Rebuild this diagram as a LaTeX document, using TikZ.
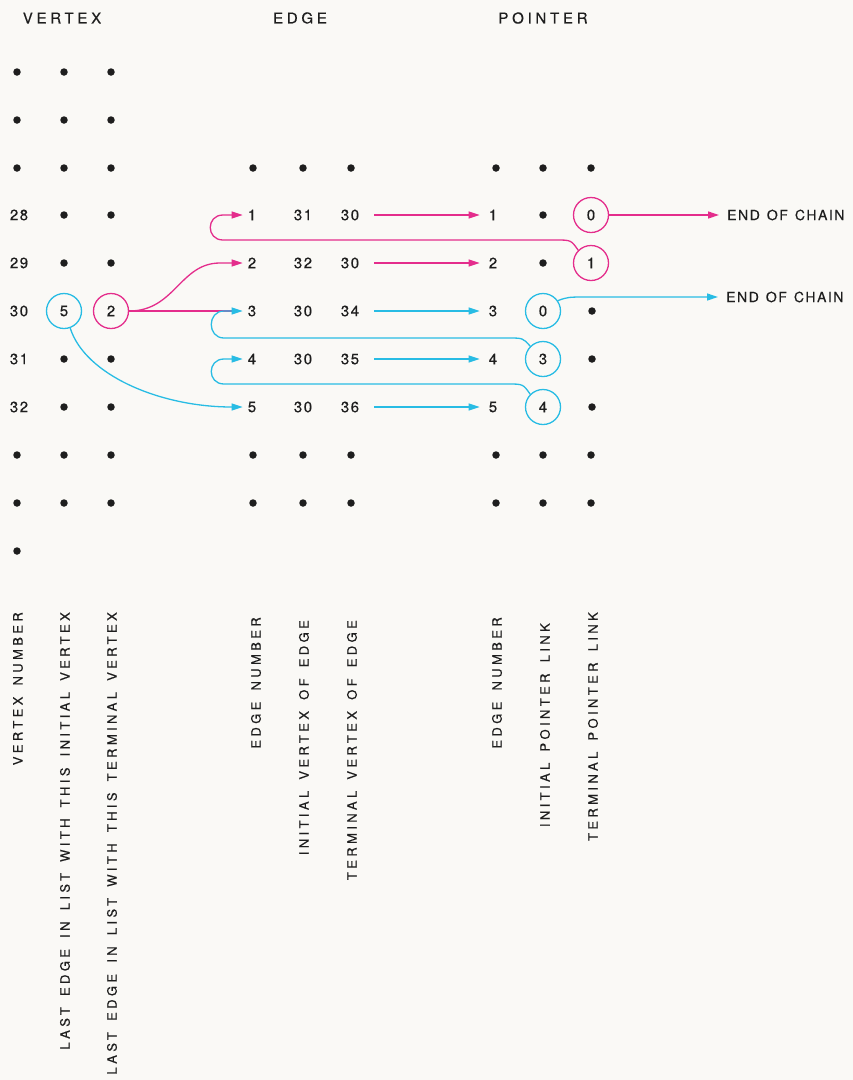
\documentclass[tikz,border=0pt]{standalone}
\usepackage{fontspec}
\setmainfont{TeX Gyre Heros}
\newfontfamily\hdfont[LetterSpace=25,WordSpace=1.6,FakeBold=0.4]{TeX Gyre Heros}
\newfontfamily\labfont[LetterSpace=26,WordSpace=1.6,FakeBold=0.4]{TeX Gyre Heros}
\newfontfamily\numfont[LetterSpace=10,FakeBold=0.4]{TeX Gyre Heros}
\newfontfamily\eocfont[LetterSpace=11,WordSpace=1.3,FakeBold=0.4]{TeX Gyre Heros}
\usetikzlibrary{arrows.meta}
\definecolor{mag}{RGB}{228,45,140}
\definecolor{cya}{RGB}{40,188,228}
\definecolor{ink}{RGB}{30,30,30}
\definecolor{paper}{RGB}{250,249,246}
\begin{document}
\begin{tikzpicture}[x=1pt,y=-1pt,
  num/.style={inner sep=0pt, text=ink, font=\numfont\fontsize{15}{15}\selectfont},
  hdr/.style={inner sep=0pt, text=ink, font=\hdfont\fontsize{15}{15}\selectfont},
  lab/.style={inner sep=0pt, text=ink, rotate=90, anchor=east, font=\labfont\fontsize{13}{13}\selectfont},
  eoc/.style={inner sep=0pt, text=ink, anchor=west, font=\eocfont\fontsize{14}{14}\selectfont},
  dotn/.style={circle, fill=ink, inner sep=0pt, minimum size=7.5pt},
  ring/.style={circle, line width=1.3pt, minimum size=35pt, inner sep=0pt, font=\numfont\fontsize{15}{15}\selectfont},
  ringm/.style={ring, draw=mag, text=ink},
  ringc/.style={ring, draw=cya, text=ink},
  link/.style={line width=1.3pt},
  tip/.style={-{Triangle[length=11pt,width=7pt]}},
]
\fill[paper] (0,0) rectangle (853,1080);
\useasboundingbox (0,0) rectangle (853,1080);

% headers
\node[hdr] (hv) at (62,18) {VERTEX};
\node[hdr] (he) at (300,18) {EDGE};
\node[hdr] (hp) at (543,18) {POINTER};

% vertex table
\foreach \y [count=\i] in {72,120,168,455,503} {
  \node[dotn] (va\i) at (17,\y) {};
  \node[dotn] (vb\i) at (64,\y) {};
  \node[dotn] (vc\i) at (111,\y) {};
}
\node[dotn] (vlast) at (17,551) {};
\foreach \n/\y in {28/215,29/263,30/311,31/359,32/407} {
  \node[num] (vn\n) at (19,\y) {\n};
}
\foreach \n/\y in {28/215,29/263,31/359,32/407} {
  \node[dotn] (vi\n) at (64,\y) {};
  \node[dotn] (vt\n) at (111,\y) {};
}
\node[ringc] (c5) at (64,311) {5};
\node[ringm] (c2) at (111,311) {2};

% edge table
\foreach \y [count=\i] in {168,455,503} {
  \node[dotn] (ea\i) at (253,\y) {};
  \node[dotn] (eb\i) at (303,\y) {};
  \node[dotn] (ec\i) at (351,\y) {};
}
\foreach \k/\a/\b/\y in {1/31/30/215,2/32/30/263,3/30/34/311,4/30/35/359,5/30/36/407} {
  \node[num] (e\k) at (252,\y) {\k};
  \node[num] (f\k) at (303,\y) {\a};
  \node[num] (g\k) at (350,\y) {\b};
}

% pointer table
\foreach \y [count=\i] in {168,455,503} {
  \node[dotn] (pa\i) at (496,\y) {};
  \node[dotn] (pb\i) at (543,\y) {};
  \node[dotn] (pc\i) at (591,\y) {};
}
\foreach \k/\y in {1/215,2/263,3/311,4/359,5/407} {
  \node[num] (p\k) at (493,\y) {\k};
}
\node[dotn] (q1) at (543,215) {};
\node[dotn] (q2) at (543,263) {};
\node[ringm] (m0) at (591,215) {0};
\node[ringm] (m1) at (591,263) {1};
\node[ringc] (z0) at (543,311) {0};
\node[ringc] (z3) at (543,359) {3};
\node[ringc] (z4) at (543,407) {4};
\node[dotn] (r3) at (592,311) {};
\node[dotn] (r4) at (592,359) {};
\node[dotn] (r5) at (592,407) {};

\node[eoc] (end1) at (727,215) {END OF CHAIN};
\node[eoc] (end2) at (726,297) {END OF CHAIN};

% labels
\node[lab] (l1) at (18,612) {VERTEX NUMBER};
\node[lab] (l2) at (65,612) {LAST EDGE IN LIST WITH THIS INITIAL VERTEX};
\node[lab] (l3) at (112,612) {LAST EDGE IN LIST WITH THIS TERMINAL VERTEX};
\node[lab] (l4) at (256,617) {EDGE NUMBER};
\node[lab] (l5) at (304,620) {INITIAL VERTEX OF EDGE};
\node[lab] (l6) at (352,620) {TERMINAL VERTEX OF EDGE};
\node[lab] (l7) at (497,617) {EDGE NUMBER};
\node[lab] (l8) at (545,623) {INITIAL POINTER LINK};
\node[lab] (l9) at (593,612) {TERMINAL POINTER LINK};

% edge -> pointer arrows
\foreach \k/\c in {1/mag,2/mag,3/cya,4/cya,5/cya} {
  \draw[link,tip,\c,shorten <=15pt,shorten >=9pt] (g\k.east) -- (p\k.west);
}

% magenta chain
\draw[link,mag,shorten >=14pt] (c2.east) -- (e3.west);
\draw[link,tip,mag,shorten >=5pt] (c2.east) .. controls (175,311) and (180,263) .. (220,263) -- (e2.west);
\draw[link,tip,mag,shorten >=5pt] (m1.135) .. controls (571,240) .. (556,240) -- (223,240)
  .. controls (206,240) and (206,215) .. (223,215) -- (e1.west);
\draw[link,tip,mag,shorten >=8pt] (m0.east) -- (end1.west);

% cyan chain
\draw[link,tip,cya,shorten >=5pt] (c5.-70) .. controls (85,375) and (160,407) .. (e5.west);
\draw[link,tip,cya,shorten >=5pt] (z4.135) .. controls (523,384) .. (508,384) -- (224,384)
  .. controls (207,384) and (207,359) .. (224,359) -- (e4.west);
\draw[link,tip,cya,shorten >=5pt] (z3.135) .. controls (523,338) .. (508,338) -- (224,338)
  .. controls (207,338) and (207,311) .. (224,311) -- (e3.west);
\draw[link,tip,cya,shorten >=8pt] (z0.35) .. controls (568,297) .. (588,297) -- (end2.west);
\end{tikzpicture}
\end{document}
